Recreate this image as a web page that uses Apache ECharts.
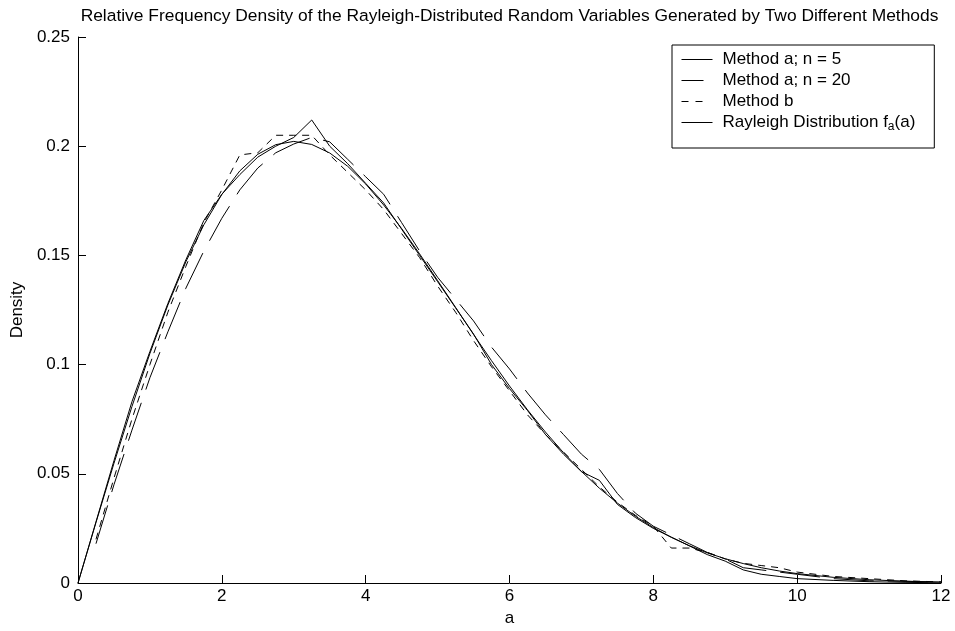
<!DOCTYPE html>
<html>
<head>
<meta charset="utf-8">
<script src="https://cdn.jsdelivr.net/npm/echarts@6/dist/echarts.min.js"></script>
<style>html,body{margin:0;padding:0;background:#fff;}#c{width:955px;height:631px;}</style>
</head>
<body>
<div id="c"></div>
<script>
// Rayleigh distribution curve
const rayX = [0,0.25,0.5,0.75,1,1.25,1.5,1.75,2,2.25,2.5,2.75,3,3.25,3.5,3.75,4,4.25,4.5,4.75,5,5.25,5.5,5.75,6,6.25,6.5,6.75,7,7.25,7.5,7.75,8,8.25,8.5,8.75,9,9.25,9.5,9.75,10,10.5,11,11.5,12];
const rayY = [0,0.0277,0.0548,0.0808,0.1051,0.1273,0.1471,0.1640,0.1779,0.1887,0.1963,0.2007,0.2022,0.2008,0.1969,0.1908,0.1827,0.1731,0.1623,0.1507,0.1385,0.1262,0.1138,0.1018,0.0902,0.0793,0.0691,0.0597,0.0511,0.0434,0.0366,0.0306,0.0254,0.0209,0.0171,0.0138,0.0111,0.0089,0.0070,0.0055,0.0043,0.0026,0.0015,0.0008,0.0005];
// Method a; n = 5
const a5X = [0,0.25,0.5,0.75,1,1.25,1.5,1.75,2,2.25,2.5,2.75,3,3.25,3.5,3.75,4,4.25,4.5,4.75,5,5.25,5.5,5.75,6,6.25,6.5,6.75,7,7.25,7.5,7.75,8,8.25,8.5,8.75,9,9.25,9.5,9.75,10,10.5,11,11.5,12];
const a5Y = [0,0.028,0.056,0.083,0.106,0.128,0.148,0.166,0.178,0.187,0.195,0.200,0.204,0.212,0.200,0.192,0.183,0.174,0.162,0.150,0.138,0.126,0.114,0.100,0.089,0.079,0.068,0.059,0.051,0.047,0.036,0.030,0.025,0.021,0.017,0.013,0.010,0.006,0.004,0.003,0.002,0.0012,0.0006,0.0003,0.0001];
// Method a; n = 20
const a20X = [0.25,0.5,0.75,1,1.25,1.5,1.75,2,2.25,2.5,2.75,3,3.25,3.5,3.75,4,4.25,4.5,4.75,5,5.25,5.5,5.75,6,6.25,6.5,6.75,7,7.25,7.5,7.75,8,8.25,8.5,8.75,9,9.25,9.5,9.75,10,10.5,11,11.5,12];
const a20Y = [0.018,0.045,0.070,0.094,0.115,0.135,0.152,0.167,0.180,0.190,0.197,0.201,0.204,0.202,0.194,0.186,0.178,0.165,0.152,0.140,0.130,0.120,0.108,0.098,0.087,0.077,0.068,0.059,0.052,0.041,0.032,0.026,0.022,0.018,0.014,0.011,0.007,0.006,0.005,0.004,0.002,0.001,0.0008,0.0003];
// Method b
const bX = [0.25,0.5,0.75,1,1.25,1.5,1.75,2,2.25,2.5,2.75,3,3.25,3.5,3.75,4,4.25,4.5,4.75,5,5.25,5.5,5.75,6,6.25,6.5,6.75,7,7.25,7.5,7.75,8,8.25,8.5,8.75,9,9.25,9.5,9.75,10,10.5,11,11.5,12];
const bY = [0.020,0.048,0.075,0.100,0.124,0.145,0.165,0.180,0.196,0.197,0.205,0.205,0.205,0.196,0.188,0.180,0.171,0.160,0.149,0.136,0.124,0.111,0.099,0.088,0.077,0.068,0.060,0.052,0.044,0.037,0.031,0.026,0.016,0.016,0.014,0.011,0.009,0.008,0.007,0.005,0.003,0.002,0.001,0.0005];
const seriesNames = ['Method a; n = 5','Method a; n = 20','Method b','Rayleigh Distribution f_a(a)'];
const xTicks = {min:0, max:12, interval:2};
const yTicks = {min:0, max:0.25, interval:0.05};
const titleText = 'Relative Frequency Density of the Rayleigh-Distributed Random Variables Generated by Two Different Methods';

const pair = (xs, ys) => xs.map((x, i) => [x, ys[i]]);
const FONT = 'Liberation Sans';
const FS = 17;
const chart = echarts.init(document.getElementById('c'), null, {renderer:'canvas'});
const mk = (name, xs, ys, type) => ({
  name, type:'line', data: pair(xs, ys), symbol:'none', animation:false,
  lineStyle:{color:'#000', width:1, type: type},
  itemStyle:{color:'#000'}, z: 2
});
chart.setOption({
  animation:false,
  backgroundColor:'#fff',
  graphic:[{
    type:'text', x:509.5, y:8, z:10,
    style:{text:titleText, textAlign:'center', textVerticalAlign:'top', fill:'#000',
      font: '17.4px "' + FONT + '"'}
  }],
  grid:{left:78, right:14, top:37, bottom:48, containLabel:false, outerBoundsMode:'none'},
  legend:{
    orient:'vertical', left:672, top:45,
    backgroundColor:'#fff', borderColor:'#000', borderWidth:1,
    padding:[4,19,15,9], itemWidth:31, itemHeight:14, itemGap:0,
    itemStyle:{color:'rgba(0,0,0,0)', borderColor:'rgba(0,0,0,0)', borderWidth:0, opacity:0},
    lineStyle:{width:1},
    textStyle:{fontFamily:FONT, fontSize:FS, color:'#000', lineHeight:21, padding:[0,0,0,5],
      rich:{
        sub:{fontFamily:FONT, fontSize:12, color:'#000', lineHeight:21, padding:[9,0,0,0]},
        n:{fontFamily:FONT, fontSize:FS, color:'#000', lineHeight:21}
      }},
    formatter: function(n){ return n === seriesNames[3] ? '{n|Rayleigh Distribution f}{sub|a}{n|(a)}' : n; },
    data:[
      {name:seriesNames[0], lineStyle:{width:1}},
      {name:seriesNames[1], lineStyle:{width:1, type:[22,20]}},
      {name:seriesNames[2], lineStyle:{width:1, type:[7,7,7,20]}},
      {name:seriesNames[3], lineStyle:{width:1}}
    ]
  },
  xAxis:{
    type:'value', min:xTicks.min, max:xTicks.max, interval:xTicks.interval,
    name:'a', nameLocation:'middle', nameGap:25,
    nameTextStyle:{fontFamily:FONT, fontSize:FS, color:'#000'},
    axisLine:{lineStyle:{color:'#000'}},
    axisTick:{inside:true, length:8, lineStyle:{color:'#000'}},
    axisLabel:{fontFamily:FONT, fontSize:FS, color:'#000', margin:5},
    splitLine:{show:false}
  },
  yAxis:{
    type:'value', min:yTicks.min, max:yTicks.max, interval:yTicks.interval,
    name:'Density', nameLocation:'middle', nameGap:52,
    nameTextStyle:{fontFamily:FONT, fontSize:FS, color:'#000'},
    axisLine:{show:true, lineStyle:{color:'#000'}},
    axisTick:{show:true, inside:true, length:8, lineStyle:{color:'#000'}},
    axisLabel:{fontFamily:FONT, fontSize:FS, color:'#000', margin:8},
    splitLine:{show:false}
  },
  series:[
    mk(seriesNames[0], a5X, a5Y, 'solid'),
    mk(seriesNames[1], a20X, a20Y, [40,14]),
    mk(seriesNames[2], bX, bY, [7,6]),
    mk(seriesNames[3], rayX, rayY, 'solid')
  ]
});
</script>
</body>
</html>
